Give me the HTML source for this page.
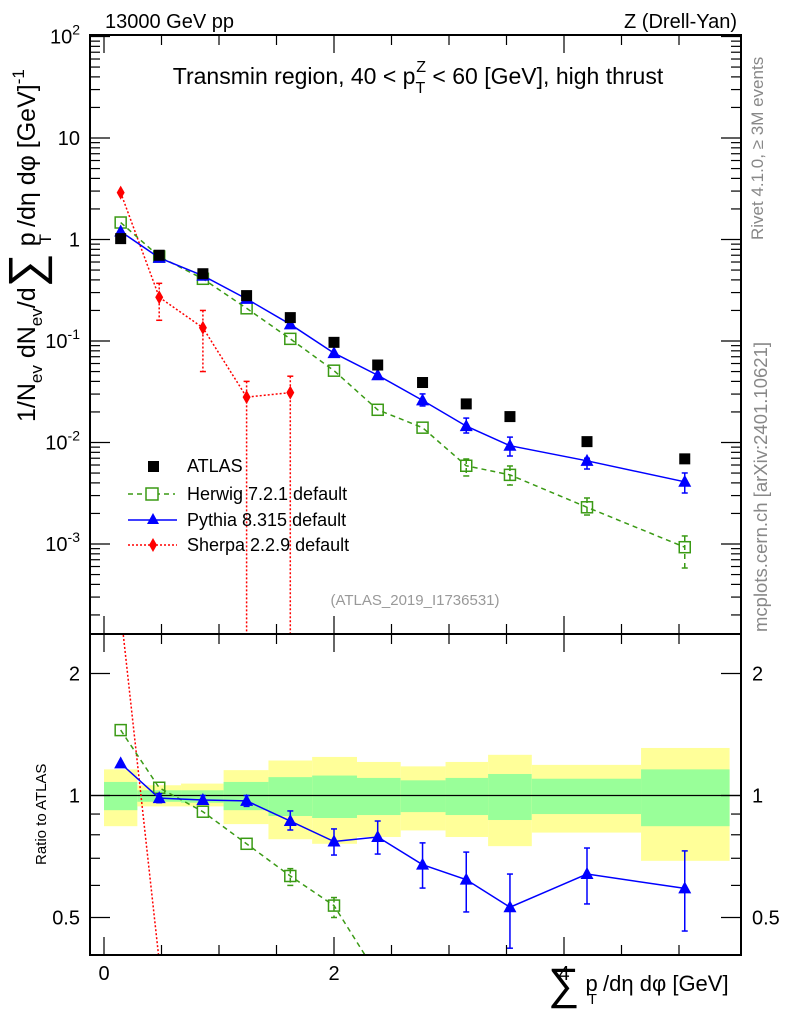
<!DOCTYPE html>
<html><head><meta charset="utf-8"><style>
html,body{margin:0;background:#fff;overflow:hidden;width:786px;height:1024px}
svg{display:block;font-family:"Liberation Sans",sans-serif}
</style></head><body>
<svg id="chart" width="786" height="1024" viewBox="0 0 786 1024" xmlns="http://www.w3.org/2000/svg">
<defs>
<clipPath id="cm"><rect x="90" y="35" width="651" height="599"/></clipPath>
<clipPath id="cr"><rect x="90" y="634" width="651" height="321"/></clipPath>
</defs>
<g id="bands" clip-path="url(#cr)"></g>
<g id="marks"></g>
<g id="axes"></g>
<g>
<text x="105" y="28" font-size="20">13000 GeV pp</text>
<text x="737" y="28" font-size="20" text-anchor="end">Z (Drell-Yan)</text>
<text x="418" y="84" font-size="23" text-anchor="middle">Transmin region, 40 &lt; p<tspan font-size="16" dy="9">T</tspan><tspan font-size="16" dx="-9" dy="-21">Z</tspan><tspan dy="12"> &lt; 60 [GeV], high thrust</tspan></text>
<text x="415" y="605" font-size="15" fill="#999" text-anchor="middle">(ATLAS_2019_I1736531)</text>
<text transform="translate(763,240) rotate(-90)" font-size="17" fill="#888">Rivet 4.1.0, ≥ 3M events</text>
<text transform="translate(767,632) rotate(-90)" font-size="18.5" fill="#888">mcplots.cern.ch [arXiv:2401.10621]</text>
<text transform="translate(35,422) rotate(-90)" font-size="25">1/N<tspan font-size="17" dy="7">ev</tspan><tspan dy="-7"> dN</tspan><tspan font-size="17" dy="7">ev</tspan><tspan dy="-7">/d</tspan><tspan font-size="48" dy="7">∑</tspan><tspan dy="-7"> p</tspan><tspan font-size="17" dy="16" dx="-12">T</tspan><tspan dy="-16"> /dη dφ  [GeV]</tspan><tspan font-size="17" dy="-11">-1</tspan></text>
<text transform="translate(46,865) rotate(-90)" font-size="15">Ratio to ATLAS</text>
<text x="548" y="997" font-size="22"><tspan font-size="44" dy="2">∑</tspan><tspan dy="-8"> p</tspan><tspan font-size="15" dy="13" dx="-10">T</tspan><tspan dy="-13"> /dη dφ [GeV]</tspan></text>
</g>
<g font-size="18">
<rect x="148" y="461" width="11" height="11" fill="#000"/>
<text x="187" y="472">ATLAS</text>
<line x1="128" y1="494" x2="175" y2="494" stroke="#3a9a14" stroke-width="1.5" stroke-dasharray="5,4"/>
<rect x="146" y="488" width="12" height="12" fill="#fff" stroke="#3a9a14" stroke-width="1.5"/>
<text x="187" y="500">Herwig 7.2.1 default</text>
<line x1="128" y1="520" x2="177" y2="520" stroke="#0000ff" stroke-width="1.5"/>
<path d="M153,513 L159,524 L147,524 Z" fill="#0000ff"/>
<text x="187" y="526">Pythia 8.315 default</text>
<line x1="128" y1="545" x2="177" y2="545" stroke="#ff0000" stroke-width="1.5" stroke-dasharray="2,2"/>
<path d="M153,538 L157,545 L153,552 L149,545 Z" fill="#ff0000"/>
<text x="187" y="551">Sherpa 2.2.9 default</text>
</g>
</svg>
<script>
const xCenters=[0.145,0.48,0.86,1.24,1.62,2.0,2.38,2.77,3.15,3.53,4.2,5.05];
const binEdges=[0,0.29,0.67,1.04,1.43,1.81,2.2,2.58,2.97,3.34,3.72,4.67,5.44];
const atlas=[1.02,0.70,0.46,0.28,0.17,0.097,0.058,0.039,0.024,0.018,0.0102,0.0069];
const herwig=[1.47,0.68,0.41,0.21,0.105,0.051,0.021,0.014,0.0059,0.0048,0.0023,0.00093];
const herwigLo=[null,null,null,null,null,null,null,null,0.00468,0.00381,0.00193,0.00058];
const herwigHi=[null,null,null,null,null,null,null,null,0.00688,0.00587,0.00284,0.0012];
const pythia=[1.2,0.66,0.44,0.26,0.146,0.076,0.046,0.026,0.0145,0.0093,0.0066,0.0041];
const pythiaLo=[null,null,null,null,null,null,null,0.0229,0.0124,0.00736,0.00548,0.00318];
const pythiaHi=[null,null,null,null,null,null,null,0.0301,0.0174,0.0113,0.0070,0.00501];
const sherpa=[2.9,0.27,0.135,0.028,0.031];
const sherpaLo=[null,0.16,0.05,0.0001,0.0001];
const sherpaHi=[null,0.37,0.20,0.040,0.045];
const yellowHi=[1.16,1.06,1.07,1.155,1.22,1.245,1.21,1.18,1.21,1.26,1.19,1.31];
const greenHi=[1.08,1.03,1.03,1.08,1.11,1.12,1.105,1.09,1.105,1.13,1.1,1.16];
const greenLo=[0.92,0.965,0.96,0.92,0.89,0.88,0.895,0.91,0.895,0.87,0.9,0.84];
const yellowLo=[0.84,0.94,0.94,0.85,0.78,0.76,0.79,0.82,0.79,0.75,0.81,0.69];
const rHerwig=[1.45,1.045,0.912,0.76,0.633,0.535,0.36,0.36,0.25,0.27,0.23,0.135];
const rHerwigLo=[null,null,null,null,0.60,0.50,null,null,null,null,null,null];
const rHerwigHi=[null,null,null,null,0.66,0.56,null,null,null,null,null,null];
const rPythia=[1.2,0.985,0.975,0.97,0.865,0.77,0.79,0.675,0.62,0.53,0.64,0.59];
const rPythiaLo=[null,0.96,0.955,0.94,0.822,0.713,0.717,0.591,0.516,0.42,0.54,0.463];
const rPythiaHi=[null,1.01,1.0,1.0,0.916,0.827,0.865,0.764,0.725,0.64,0.742,0.73];
const rSherpa=[2.85,0.39,0.29,0.1,0.18];
const xMajor=[0,2,4];
const mainDecades=[-3,-2,-1,0,1,2];
const ratioLabels=[0.5,1,2];

const NS='http://www.w3.org/2000/svg';
const X0=90,X1=741,MT=35,MB=634,RB=955;
const xS=u=>104+115*u;
const yM=v=>239.5-101.5*Math.log10(v);
const yR=r=>795.5-122*Math.log2(r);
function mk(tag,attrs,parent){const e=document.createElementNS(NS,tag);for(const k in attrs)e.setAttribute(k,attrs[k]);parent.appendChild(e);return e;}
const marks=document.getElementById('marks');
const axes=document.getElementById('axes');
const bands=document.getElementById('bands');

for(let i=0;i<yellowHi.length;i++){
  const x=xS(binEdges[i]),w=xS(binEdges[i+1])-x;
  let r=mk('rect',{x:x,y:yR(yellowHi[i]),width:w,height:yR(yellowLo[i])-yR(yellowHi[i]),fill:'#ffff99'},bands);
  
  
  r=mk('rect',{x:x,y:yR(greenHi[i]),width:w,height:yR(greenLo[i])-yR(greenHi[i]),fill:'#99ff99'},bands);
  
  
}
let ref=mk('line',{x1:X0,x2:X1,y1:yR(1),y2:yR(1),stroke:'#000','stroke-width':1.3},marks);



function series(name,vals,lo,hi,yf,clip,color,dash,marker){
  const g=mk('g',{'clip-path':'url(#'+clip+')'},marks);
  
  
  const pts=vals.map((v,i)=>[xS(xCenters[i]),yf(v)]);
  if(color){
    const p=mk('polyline',{points:pts.map(p=>p.join(',')).join(' '),fill:'none',stroke:color,'stroke-width':1.5},g);
    if(dash)p.setAttribute('stroke-dasharray',dash);
  }
  vals.forEach((v,i)=>{
    const [x,y]=pts[i];
    if(lo&&lo[i]!=null){
      const l=mk('line',{x1:x,x2:x,y1:yf(hi[i]),y2:yf(lo[i]),stroke:color,'stroke-width':1.5},g);
      if(dash)l.setAttribute('stroke-dasharray',dash);
      mk('line',{x1:x-3,x2:x+3,y1:yf(hi[i]),y2:yf(hi[i]),stroke:color,'stroke-width':1.5},g);
      mk('line',{x1:x-3,x2:x+3,y1:yf(lo[i]),y2:yf(lo[i]),stroke:color,'stroke-width':1.5},g);
    }
    let m;
    if(marker==='fsq')m=mk('rect',{x:x-5.5,y:y-5.5,width:11,height:11,fill:'#000'},g);
    else if(marker==='osq')m=mk('rect',{x:x-5.5,y:y-5.5,width:11,height:11,fill:'none',stroke:color,'stroke-width':1.5},g);
    else if(marker==='tri')m=mk('path',{d:`M${x},${y-7} L${x+6.5},${y+5} L${x-6.5},${y+5} Z`,fill:color},g);
    else m=mk('path',{d:`M${x},${y-7} L${x+4},${y} L${x},${y+7} L${x-4},${y} Z`,fill:color},g);
    
    
  });
}
series('sherpa-series',sherpa,sherpaLo,sherpaHi,yM,'cm','#ff0000','2,2','dia');
series('herwig-series',herwig,herwigLo,herwigHi,yM,'cm','#3a9a14','5,4','osq');
series('pythia-series',pythia,pythiaLo,pythiaHi,yM,'cm','#0000ff',null,'tri');
series('atlas-series',atlas,null,null,yM,'cm',null,null,'fsq');
series('sherpa-ratio',rSherpa,null,null,yR,'cr','#ff0000','2,2','dia');
series('herwig-ratio',rHerwig,rHerwigLo,rHerwigHi,yR,'cr','#3a9a14','5,4','osq');
series('pythia-ratio',rPythia,rPythiaLo,rPythiaHi,yR,'cr','#0000ff',null,'tri');

let f=mk('rect',{x:X0,y:MT,width:X1-X0,height:MB-MT,fill:'none',stroke:'#000','stroke-width':2},axes);

f=mk('rect',{x:X0,y:MB,width:X1-X0,height:RB-MB,fill:'none',stroke:'#000','stroke-width':2},axes);

for(let u=0;u<=5.4;u+=0.5){
  const x=xS(u),major=Math.abs(u-Math.round(u/2)*2)<1e-6;
  const L=major?18:10;
  [[MT,MT+L],[MB,MB-L],[MB,MB+L],[RB,RB-L]].forEach(([a,b])=>mk('line',{x1:x,x2:x,y1:a,y2:b,stroke:'#000','stroke-width':1.2},axes));
}
xMajor.forEach(u=>{const t=mk('text',{x:xS(u),y:980,'font-size':20,'text-anchor':'middle'},axes);t.textContent=u;
});
for(let d=-4;d<=2;d++){for(let k=1;k<=9;k++){const v=k*Math.pow(10,d);const y=yM(v);if(y<MT-0.5||y>MB)continue;
  const L=k===1?20:10;mk('line',{x1:X0,x2:X0+L,y1:y,y2:y,stroke:'#000','stroke-width':1.2},axes);mk('line',{x1:X1,x2:X1-L,y1:y,y2:y,stroke:'#000','stroke-width':1.2},axes);}}
mainDecades.forEach(d=>{const t=mk('text',{x:80,y:yM(Math.pow(10,d))+7,'font-size':20,'text-anchor':'end'},axes);

if(d===0)t.textContent='1';else if(d===1)t.textContent='10';else{t.textContent='10';const s=mk('tspan',{dy:-9,'font-size':14},t);s.textContent=d;}});
[0.4,0.5,0.6,0.7,0.8,0.9,1,2].forEach(r=>{const y=yR(r);if(y>RB||y<MB)return;const L=(r===0.5||r===1||r===2)?20:10;
mk('line',{x1:X0,x2:X0+L,y1:y,y2:y,stroke:'#000','stroke-width':1.2},axes);mk('line',{x1:X1,x2:X1-L,y1:y,y2:y,stroke:'#000','stroke-width':1.2},axes);});
ratioLabels.forEach(r=>{[[80,'end'],[752,'start']].forEach(([x,a])=>{const t=mk('text',{x:x,y:yR(r)+7,'font-size':20,'text-anchor':a},axes);t.textContent=r;
});});
</script>
</body></html>
